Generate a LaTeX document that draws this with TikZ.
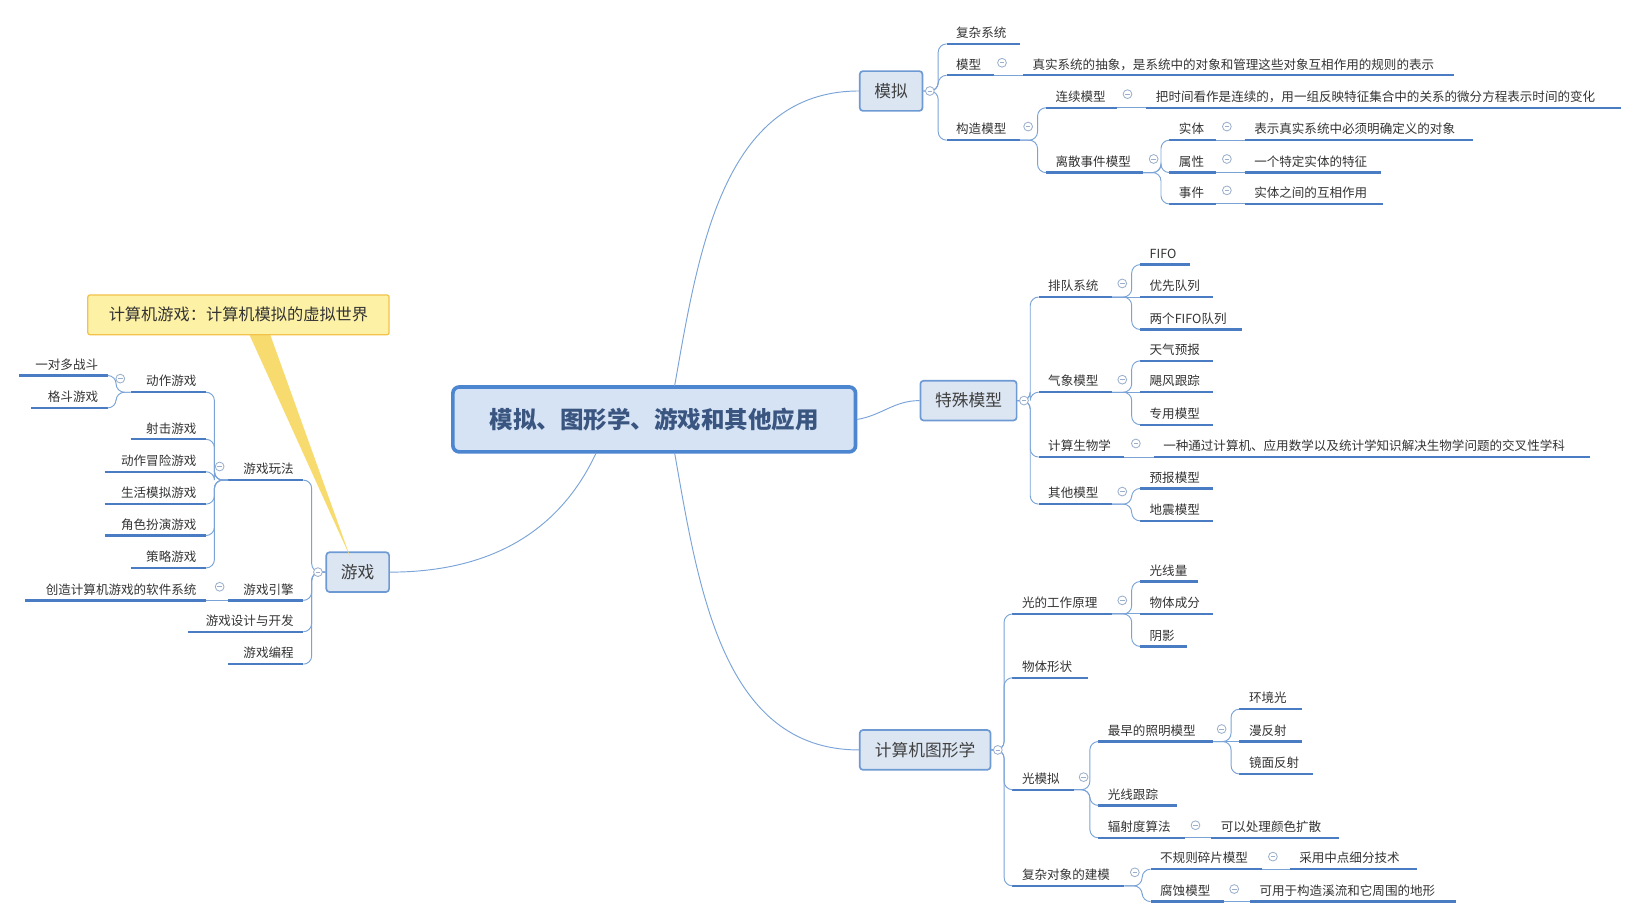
\documentclass[tikz,border=0pt]{standalone}
\usepackage{fontspec}
\setmainfont{Noto Sans CJK SC}
\definecolor{ln}{HTML}{7AA3D8}
\definecolor{ulc}{HTML}{4A7CC4}
\definecolor{bxf}{HTML}{DCE6F3}
\definecolor{bxd}{HTML}{6E9AD4}
\definecolor{txt}{HTML}{333333}
\definecolor{ccc}{HTML}{9AAFCB}
\definecolor{cend}{HTML}{4D86D0}
\definecolor{cenf}{HTML}{D5E3F5}
\definecolor{cent}{HTML}{3A5680}
\definecolor{yld}{HTML}{F2C24A}
\definecolor{ylf}{HTML}{FDF1A6}
\definecolor{ylp}{HTML}{F7DB6E}
\tikzset{
 tp/.style={inner sep=0pt,text=txt,font=\fontsize{12pt}{14pt}\selectfont},
 ul/.style={draw=ulc,line width=2.2pt},
 br/.style={draw=ln,line width=0.9pt,rounded corners=8pt},
 mainbox/.style={draw=bxd,fill=bxf,line width=1.6pt,rounded corners=3pt,text=black!75,font=\fontsize{16pt}{18pt}\selectfont,inner sep=0pt,minimum height=38pt},
 cc/.style={draw=ccc,line width=0.8pt,fill=white},
 callbox/.style={draw=yld,fill=ylf,line width=1.2pt,rounded corners=2pt,minimum width=288pt,minimum height=38pt,inner sep=0pt,text=txt,font=\fontsize{15.5pt}{18pt}\selectfont},
}
\newcommand\TR[5]{\coordinate (#1-l) at (#2,#4); \coordinate (#1-r) at (#3,#4);
 \node[tp,anchor=base west] (#1) at (#2+9,#4-6) {#5}; \draw[ul] (#1-l) -- (#1-r);}
\newcommand\TL[5]{\coordinate (#1-l) at (#2,#4); \coordinate (#1-r) at (#3,#4);
 \node[tp,anchor=base east] (#1) at (#3-9,#4-6) {#5}; \draw[ul] (#1-l) -- (#1-r);}
\newcommand\CC[2]{\draw[cc] (#1,#2) circle (4.2pt); \draw[ccc,line width=0.8pt] (#1-2.2,#2) -- (#1+2.2,#2);}
\newcommand\BR[2]{\draw[br] (#1-r) -| ([xshift=-8pt]#2-l) -- (#2-l);}
\newcommand\BL[2]{\draw[br] (#1-l) -| ([xshift=8pt]#2-r) -- (#2-r);}
\newcommand\BS[2]{\draw[br] (#1-r) -- (#2-l);}
\begin{document}
\begin{tikzpicture}[x=1pt,y=-1pt]
\useasboundingbox (0,0) rectangle (1568,879);
% central
\node[draw=cend,line width=3.5pt,fill=cenf,rounded corners=6pt,minimum width=385pt,minimum height=62pt,text=cent,font=\fontsize{22.5pt}{25pt}\selectfont\bfseries] (cen) at (625.5,401) {模拟、图形学、游戏和其他应用};
\node[mainbox,minimum width=60pt] (mn) at (852,87) {模拟};
\node[mainbox,minimum width=92pt] (tm) at (926,383) {特殊模型};
\node[mainbox,minimum width=125pt] (tx) at (884.5,717) {计算机图形学};
\node[mainbox,minimum width=60pt] (yx) at (342,547) {游戏};
\draw[ln,line width=0.9pt] (645,369) to[out=80,in=180] (mn.west);
\draw[ln,line width=0.9pt] (cen.east) to[out=10,in=180] (tm.west);
\draw[ln,line width=0.9pt] (645,433) to[out=-80,in=180] (tx.west);
\draw[ln,line width=0.9pt] (570,433) to[out=-115,in=0] (yx.east);
% 模拟
\TR{fz}{905}{975}{42}{复杂系统}
\TR{mx}{905}{950}{72}{模型}
\TR{mxd}{978}{1390}{72}{真实系统的抽象，是系统中的对象和管理这些对象互相作用的规则的表示}
\TR{gz}{905}{975}{134}{构造模型}
\TR{lx}{1000}{1068}{103}{连续模型}
\TR{lxd}{1096}{1550}{103}{把时间看作是连续的，用一组反映特征集合中的关系的微分方程表示时间的变化}
\TR{ls}{1000}{1093}{165}{离散事件模型}
\TR{st}{1118}{1163}{134}{实体}
\TR{std}{1190}{1408}{134}{表示真实系统中必须明确定义的对象}
\TR{sx}{1118}{1163}{165}{属性}
\TR{sxd}{1190}{1320}{165}{一个特定实体的特征}
\TR{sj}{1118}{1163}{195}{事件}
\TR{sjd}{1190}{1322}{195}{实体之间的互相作用}
\foreach \c in {fz,mx,gz} {\draw[br] (mn.east) -| ([xshift=-8pt]\c-l) -- (\c-l);}
\BS{mx}{mxd}\BR{gz}{lx}\BR{gz}{ls}\BS{lx}{lxd}
\BR{ls}{st}\BR{ls}{sx}\BR{ls}{sj}\BS{st}{std}\BS{sx}{sxd}\BS{sj}{sjd}
\CC{889}{87}\CC{958}{60}\CC{983}{121}\CC{1078}{90}\CC{1103}{152}\CC{1173}{121}\CC{1173}{152}\CC{1173}{182}
% 特殊模型
\TR{pd}{993}{1063}{284}{排队系统}
\TR{fifo}{1090}{1138}{253}{FIFO}
\TR{yxl}{1090}{1160}{284}{优先队列}
\TR{lg}{1090}{1187}{315}{两个FIFO队列}
\TR{qx}{993}{1063}{375}{气象模型}
\TR{tq}{1090}{1160}{345}{天气预报}
\TR{jf}{1090}{1160}{375}{飓风跟踪}
\TR{zy}{1090}{1160}{406}{专用模型}
\TR{js}{993}{1075}{437}{计算生物学}
\TR{jsd}{1103}{1520}{437}{一种通过计算机、应用数学以及统计学知识解决生物学问题的交叉性学科}
\TR{qt}{993}{1063}{482}{其他模型}
\TR{yb}{1090}{1160}{467}{预报模型}
\TR{dz}{1090}{1160}{498}{地震模型}
\foreach \c in {pd,qx,js,qt} {\draw[br] (tm.east) -| ([xshift=-8pt]\c-l) -- (\c-l);}
\BR{pd}{fifo}\BS{pd}{yxl}\BR{pd}{lg}\BR{qx}{tq}\BS{qx}{jf}\BR{qx}{zy}\BS{js}{jsd}\BR{qt}{yb}\BR{qt}{dz}
\CC{979}{383}\CC{1073}{271}\CC{1073}{363}\CC{1086}{424}\CC{1073}{470}
% 计算机图形学
\TR{gg}{968}{1063}{587}{光的工作原理}
\TR{gxl}{1090}{1145}{556}{光线量}
\TR{wt}{1090}{1160}{587}{物体成分}
\TR{yy}{1090}{1135}{618}{阴影}
\TR{wx}{968}{1040}{648}{物体形状}
\TR{gm}{968}{1027}{755}{光模拟}
\TR{zz}{1050}{1160}{709}{最早的照明模型}
\TR{hj}{1185}{1245}{678}{环境光}
\TR{mf}{1185}{1245}{709}{漫反射}
\TR{jm}{1185}{1255}{740}{镜面反射}
\TR{gxz}{1050}{1125}{770}{光线跟踪}
\TR{fs}{1050}{1133}{801}{辐射度算法}
\TR{fsd}{1158}{1280}{801}{可以处理颜色扩散}
\TR{fz2}{968}{1075}{847}{复杂对象的建模}
\TR{bg}{1100}{1207}{831}{不规则碎片模型}
\TR{bgd}{1233}{1355}{831}{采用中点细分技术}
\TR{fsm}{1100}{1170}{862}{腐蚀模型}
\TR{fsmd}{1195}{1392}{862}{可用于构造溪流和它周围的地形}
\foreach \c in {gg,wx,gm,fz2} {\draw[br] (tx.east) -| ([xshift=-8pt]\c-l) -- (\c-l);}
\BR{gg}{gxl}\BS{gg}{wt}\BR{gg}{yy}\BR{gm}{zz}\BR{gm}{gxz}\BR{gm}{fs}
\BR{zz}{hj}\BS{zz}{mf}\BR{zz}{jm}\BS{fs}{fsd}\BR{fz2}{bg}\BR{fz2}{fsm}\BS{bg}{bgd}\BS{fsm}{fsmd}
\CC{954}{717}\CC{1073}{574}\CC{1036}{743}\CC{1168}{697}\CC{1143}{789}\CC{1085}{834}\CC{1217}{819}\CC{1180}{850}
% 游戏
\TL{wf}{218}{290}{459}{游戏玩法}
\TL{dzy}{125}{197}{375}{动作游戏}
\TL{yd}{18}{103}{359}{一对多战斗}
\TL{gd}{30}{103}{390}{格斗游戏}
\TL{sjy}{125}{197}{420}{射击游戏}
\TL{dm}{100}{197}{451}{动作冒险游戏}
\TL{sh}{100}{197}{482}{生活模拟游戏}
\TL{jsy}{100}{197}{512}{角色扮演游戏}
\TL{cl}{125}{197}{543}{策略游戏}
\TL{yq}{218}{290}{574}{游戏引擎}
\TL{yqd}{24}{197}{574}{创造计算机游戏的软件系统}
\TL{sk}{180}{290}{604}{游戏设计与开发}
\TL{bc}{218}{290}{635}{游戏编程}
\foreach \c in {wf,yq,sk,bc} {\draw[br] (yx.west) -| ([xshift=8pt]\c-r) -- (\c-r);}
\foreach \c in {dzy,sjy,dm,sh,jsy,cl} {\BL{wf}{\c}}
\BL{dzy}{yd}\BL{dzy}{gd}\draw[br] (yq-l) -- (yqd-r);
\CC{304}{547}\CC{210}{446}\CC{115}{362}\CC{210}{561}
% callout
\coordinate (tip) at (335,533);
\fill[ylp] (238,319) -- (258,319) -- (tip) -- cycle;
\node[callbox] (call) at (228,301) {计算机游戏：计算机模拟的虚拟世界};
\end{tikzpicture}
\end{document}
